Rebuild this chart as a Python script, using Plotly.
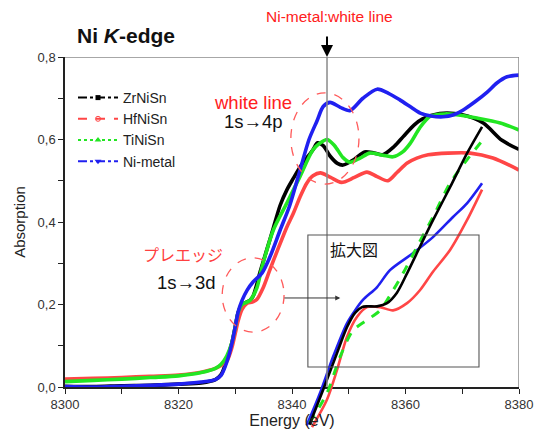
import plotly.graph_objects as go

# ---------------- data ----------------
SERIES = ["ZrNiSn", "HfNiSn", "TiNiSn", "Ni-metal"]

BLK_E = [8300, 8305, 8310, 8315, 8320, 8324, 8326.5, 8327.5, 8328.5, 8329.4, 8330.0, 8330.5, 8331.2, 8332.6, 8333.2,
         8334.4, 8335.5, 8336.7, 8337.9, 8339.1, 8340.2, 8341.4, 8342.6, 8343.7, 8344.5, 8345.5, 8346.7, 8348.0,
         8349.0, 8351.0, 8352.8, 8354.5, 8356.0, 8358.0, 8359.6, 8361.5, 8363.0, 8366.0, 8370.0, 8373.7, 8377.0, 8380.0]
BLK_A = [0.002, 0.001, 0.003, 0.004, 0.007, 0.010, 0.018, 0.030, 0.065, 0.107, 0.146, 0.180, 0.200, 0.210, 0.222,
         0.280, 0.330, 0.385, 0.440, 0.478, 0.505, 0.533, 0.555, 0.575, 0.592, 0.585, 0.560, 0.542,
         0.538, 0.552, 0.570, 0.567, 0.563, 0.583, 0.607, 0.635, 0.650, 0.663, 0.660, 0.640, 0.598, 0.576]

RED_E = [8300, 8305, 8310, 8315, 8320, 8324, 8326.5, 8327.5, 8328.5, 8329.4, 8330.0, 8330.5, 8331.2, 8332.1, 8333.0,
         8333.8, 8334.9, 8336.1, 8337.4, 8339.1, 8340.2, 8341.4, 8342.6, 8343.7, 8345.0, 8346.8, 8348.7, 8351.0,
         8353.2, 8355.0, 8356.9, 8358.5, 8360.3, 8362.0, 8364.0, 8367.5, 8371.4, 8375.4, 8380.0]
RED_A = [0.019, 0.021, 0.023, 0.026, 0.029, 0.036, 0.045, 0.052, 0.062, 0.095, 0.130, 0.160, 0.188, 0.203, 0.206,
         0.212, 0.240, 0.284, 0.330, 0.388, 0.420, 0.460, 0.494, 0.512, 0.519, 0.508, 0.496, 0.508,
         0.521, 0.510, 0.500, 0.520, 0.543, 0.555, 0.563, 0.567, 0.567, 0.555, 0.526]

GRN_E = [8300, 8305, 8310, 8315, 8320, 8324, 8326.5, 8327.5, 8328.5, 8329.4, 8330.0, 8330.5, 8331.2, 8332.6, 8333.8,
         8334.7, 8336.7, 8339.1, 8341.4, 8343.7, 8345.0, 8346.2, 8347.5, 8349.0, 8350.2, 8352.0, 8353.7, 8356.0,
         8357.8, 8359.5, 8360.8, 8362.5, 8364.3, 8367.0, 8369.0, 8372.6, 8376.7, 8380.0]
GRN_A = [0.013, 0.016, 0.019, 0.023, 0.027, 0.035, 0.045, 0.055, 0.075, 0.107, 0.146, 0.180, 0.200, 0.210, 0.240,
         0.290, 0.380, 0.446, 0.510, 0.575, 0.592, 0.600, 0.585, 0.556, 0.545, 0.555, 0.567, 0.562,
         0.558, 0.570, 0.590, 0.628, 0.656, 0.662, 0.660, 0.652, 0.640, 0.623]

BLU_E = [8300, 8305, 8310, 8315, 8320, 8324, 8326.5, 8327.5, 8328.5, 8329.4, 8330.0, 8330.5, 8331.2, 8332.1, 8333.1,
         8334.7, 8336.1, 8337.9, 8339.6, 8341.4, 8343.0, 8344.4, 8345.5, 8346.7, 8348.5, 8350.2, 8352.5, 8355.0,
         8357.0, 8359.0, 8361.0, 8362.6, 8364.5, 8366.6, 8368.5, 8370.1, 8372.3, 8374.4, 8376.1, 8377.9, 8380.0]
BLU_A = [0.001, 0.000, 0.002, 0.004, 0.007, 0.012, 0.018, 0.028, 0.060, 0.105, 0.146, 0.182, 0.210, 0.235, 0.254,
         0.276, 0.315, 0.380, 0.440, 0.525, 0.600, 0.645, 0.680, 0.690, 0.678, 0.670, 0.700, 0.722,
         0.712, 0.696, 0.678, 0.664, 0.657, 0.655, 0.660, 0.671, 0.692, 0.715, 0.737, 0.752, 0.756]

# inset ("拡大図") curves, in the inset's own magnified energy / absorption scale
INS_BLK_E = [8328.6, 8329.34, 8330.10, 8330.64, 8331.08, 8331.46, 8331.73, 8332.28, 8332.82, 8333.36, 8333.91,
             8334.61, 8335.32, 8336.25, 8337.17, 8337.99]
INS_BLK_A = [0.048, 0.091, 0.137, 0.169, 0.187, 0.194, 0.195, 0.195, 0.199, 0.212, 0.236,
             0.269, 0.302, 0.343, 0.385, 0.418]
INS_RED_E = [8328.74, 8329.55, 8330.10, 8330.64, 8331.19, 8331.73, 8332.44, 8333.15, 8333.91, 8334.61, 8335.32,
             8336.25, 8337.17, 8337.99]
INS_RED_A = [0.045, 0.079, 0.116, 0.157, 0.182, 0.194, 0.194, 0.190, 0.199, 0.215, 0.238,
             0.265, 0.302, 0.340]
INS_GRN_E = [8328.6, 8329.55, 8330.26, 8330.97, 8331.73, 8332.44, 8333.15, 8333.69, 8334.45, 8335.32, 8336.25,
             8337.17, 8338.04]
INS_GRN_A = [0.050, 0.087, 0.132, 0.165, 0.178, 0.190, 0.215, 0.236, 0.269, 0.306, 0.348,
             0.377, 0.402]
INS_BLU_E = [8328.45, 8329.17, 8329.88, 8330.64, 8331.08, 8331.51, 8332.28, 8332.98, 8334.23, 8335.32, 8336.41,
             8337.17, 8337.99]
INS_BLU_A = [0.047, 0.087, 0.132, 0.174, 0.190, 0.203, 0.219, 0.240, 0.261, 0.281, 0.306,
             0.323, 0.348]

X_TICKS = [8300, 8310, 8320, 8330, 8340, 8350, 8360, 8370, 8380]
X_TICK_TEXT = ["8300", "", "8320", "", "8340", "", "8360", "", "8380"]
Y_TICKS = [0.0, 0.1, 0.2, 0.3, 0.4, 0.5, 0.6, 0.7, 0.8]
Y_TICK_TEXT = ["0,0", "", "0,2", "", "0,4", "", "0,6", "", "0,8"]

# ---------------- styling ----------------
FONT = "Liberation Sans, Arial, sans-serif"
CJK = "Noto Sans CJK JP, sans-serif"
C_BLK, C_RED, C_GRN, C_BLU = "#000000", "#ff4646", "#22e622", "#2020f0"
LINE_W = 3.6

fig = go.Figure()

main = [(BLK_E, BLK_A, C_BLK), (RED_E, RED_A, C_RED), (GRN_E, GRN_A, C_GRN), (BLU_E, BLU_A, C_BLU)]
for e, a, c in main:
    fig.add_trace(go.Scatter(x=e, y=a, mode="lines", line=dict(color=c, width=LINE_W, shape="spline", smoothing=0.8),
                             showlegend=False, hoverinfo="skip", xaxis="x", yaxis="y"))

inset = [(INS_BLU_E, INS_BLU_A, C_BLU, "solid"), (INS_RED_E, INS_RED_A, C_RED, "solid"),
         (INS_GRN_E, INS_GRN_A, C_GRN, "dash"), (INS_BLK_E, INS_BLK_A, C_BLK, "solid")]
for e, a, c, d in inset:
    fig.add_trace(go.Scatter(x=e, y=a, mode="lines",
                             line=dict(color=c, width=2.6 if d == "solid" else 3, dash=d, shape="spline", smoothing=0.8),
                             showlegend=False, hoverinfo="skip", xaxis="x2", yaxis="y2"))

# legend-only entries
leg_styles = [(C_BLK, "dashdot", "square", 5), (C_RED, "dash", "circle-open", 5),
              (C_GRN, "dot", "triangle-up", 6), (C_BLU, "dashdot", "triangle-down", 6)]
for name, (c, d, m, s) in zip(SERIES, leg_styles):
    fig.add_trace(go.Scatter(x=[None], y=[None], name=name, mode="lines+markers",
                             line=dict(color=c, width=2, dash=d), marker=dict(symbol=m, size=s, color=c),
                             xaxis="x", yaxis="y"))

# ---------------- layout geometry ----------------
W, H = 539, 433
ML, MR, MT, MB = 65, 20, 57, 5
plot_h = H - MT - MB
y_bottom_px = 387
y_dom0 = (H - MB - y_bottom_px) / plot_h

def py2paper(py):
    return (H - MB - py) / plot_h

def px2paper(px):
    return (px - ML) / (W - ML - MR)

axis_font = dict(family=FONT, size=13, color="#333333")

fig.update_layout(
    width=W, height=H,
    margin=dict(l=ML, r=MR, t=MT, b=MB, autoexpand=False),
    paper_bgcolor="white", plot_bgcolor="rgba(0,0,0,0)",
    font=dict(family=FONT, color="#222"),
    xaxis=dict(range=[8300, 8380], domain=[0, 1], anchor="y", tickvals=X_TICKS, ticktext=X_TICK_TEXT,
               ticks="outside", ticklen=5, tickwidth=1.2, tickcolor="#222", showline=True, linecolor="#222",
               linewidth=1.5, showgrid=False, zeroline=False, tickfont=axis_font, automargin=False,
               title=dict(text="Energy (eV)", font=dict(family=FONT, size=16, color="#222"), standoff=2)),
    yaxis=dict(range=[0, 0.8], domain=[y_dom0, 1], anchor="x", tickvals=Y_TICKS, ticktext=Y_TICK_TEXT,
               ticks="outside", ticklen=5, tickwidth=1.2, tickcolor="#222", showline=True, linecolor="#222",
               linewidth=1.5, showgrid=False, zeroline=False, tickfont=axis_font, automargin=False,
               title=dict(text="Absorption", font=dict(family=FONT, size=15, color="#222"), standoff=8)),
    xaxis2=dict(range=[8315.3, 8340.0], domain=[0, 1], anchor="y2", visible=False, showgrid=False),
    yaxis2=dict(range=[0.0439, 0.5047], domain=[0, 1], anchor="x2", visible=False, showgrid=False),
    legend=dict(x=px2paper(73), y=py2paper(82), xanchor="left", yanchor="top", bgcolor="rgba(0,0,0,0)",
                font=dict(family=FONT, size=14, color="#222"), tracegroupgap=0, itemwidth=40),
    showlegend=True,
)

shapes = [
    # top and right frame lines (gray)
    dict(type="line", xref="x", yref="y", x0=8300, x1=8380, y0=0.8, y1=0.8, line=dict(color="#8a8a8a", width=1.5)),
    dict(type="line", xref="x", yref="y", x0=8380, x1=8380, y0=0, y1=0.8, line=dict(color="#8a8a8a", width=1.5)),
    # Ni-metal white line marker
    dict(type="line", xref="x", yref="y", x0=8346.17, x1=8346.17, y0=0, y1=0.8, line=dict(color="#8a8a8a", width=1.5)),
    # magnified-view frame
    dict(type="rect", xref="x", yref="y", x0=8342.8, x1=8372.95, y0=0.0485, y1=0.3685,
         line=dict(color="#555555", width=1.1)),
    # dashed ellipses
    dict(type="circle", xref="x", yref="y", x0=8339.8, x1=8351.8, y0=0.492, y1=0.713,
         line=dict(color="#ff5a5a", width=1.3, dash="dash")),
    dict(type="circle", xref="x", yref="y", x0=8327.7, x1=8338.6, y0=0.133, y1=0.313,
         line=dict(color="#ff5a5a", width=1.3, dash="dash")),
]
fig.update_layout(shapes=shapes)

annotations = [
    dict(text="<b>Ni <i>K</i>-edge</b>", xref="paper", yref="paper", x=px2paper(75), y=py2paper(35),
         xanchor="left", yanchor="middle", showarrow=False, font=dict(family=FONT, size=21, color="#111")),
    dict(text="Ni-metal:white line", xref="paper", yref="paper", x=px2paper(329), y=py2paper(17),
         xanchor="center", yanchor="middle", showarrow=False, font=dict(family=FONT, size=15.5, color="#ff2020")),
    dict(text="", x=8346.17, y=0.8, xref="x", yref="y", ax=0, ay=-22, showarrow=True,
         arrowhead=2, arrowsize=1.2, arrowwidth=2, arrowcolor="#000"),
    dict(text="white line", xref="paper", yref="paper", x=px2paper(253), y=py2paper(102),
         xanchor="center", yanchor="middle", showarrow=False, font=dict(family=FONT, size=18.5, color="#ff2020")),
    dict(text="1s→4p", xref="paper", yref="paper", x=px2paper(253), y=py2paper(122),
         xanchor="center", yanchor="middle", showarrow=False, font=dict(family=FONT, size=18.5, color="#111")),
    dict(text="プレエッジ", xref="paper", yref="paper", x=px2paper(183), y=py2paper(254),
         xanchor="center", yanchor="middle", showarrow=False, font=dict(family=CJK, size=16, color="#ff4040")),
    dict(text="1s→3d", xref="paper", yref="paper", x=px2paper(186), y=py2paper(282),
         xanchor="center", yanchor="middle", showarrow=False, font=dict(family=FONT, size=18.5, color="#111")),
    dict(text="拡大図", xref="paper", yref="paper", x=px2paper(354), y=py2paper(249),
         xanchor="center", yanchor="middle", showarrow=False, font=dict(family=CJK, size=16, color="#111")),
    dict(text="", x=8348.5, y=0.2158, ax=8338.4, ay=0.2158, xref="x", yref="y", axref="x", ayref="y",
         showarrow=True, arrowhead=2, arrowsize=1, arrowwidth=1, arrowcolor="#333"),
]
fig.update_layout(annotations=annotations)

fig.write_html("out.html", config={"displayModeBar": False},
               post_script="document.body.style.margin='0';document.body.style.padding='0';")
